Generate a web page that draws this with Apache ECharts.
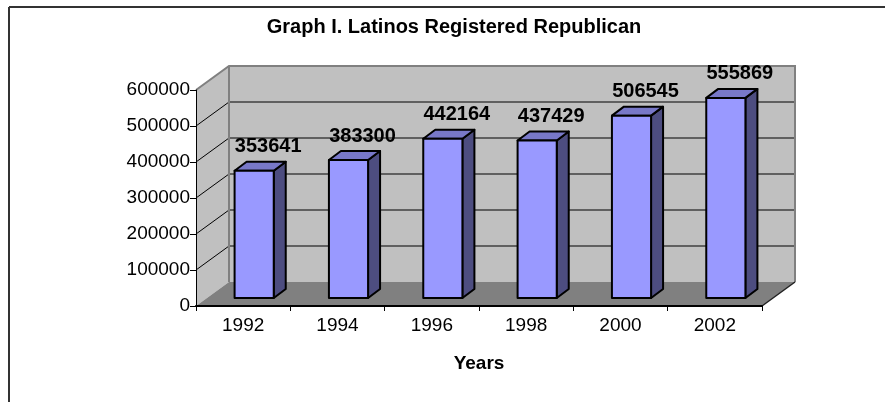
<!DOCTYPE html>
<html>
<head>
<meta charset="utf-8">
<script src="https://cdn.jsdelivr.net/npm/echarts@6/dist/echarts.min.js"></script>
<style>
  html, body { margin: 0; padding: 0; background: #fff; }
  #chart { width: 885px; height: 402px; }
</style>
</head>
<body>
<div id="chart"></div>
<script>
// 数据
const years = ['1992', '1994', '1996', '1998', '2000', '2002']
const registered = [353641, 383300, 442164, 437429, 506545, 555869]
const yTicks = [0, 100000, 200000, 300000, 400000, 500000, 600000]

// 立体效果偏移
const DEPTH = [33, -24]       // 背板相对前沿
const BAR_SHIFT = [11, -8]    // 柱子正面相对前沿
const BAR_DEPTH = [12, -9]    // 柱子侧面厚度
const BAR_W = 0.415           // 柱宽 / 类目宽

const chart = echarts.init(document.getElementById('chart'))

function renderWalls(params, api) {
  const cs = params.coordSys
  const x0 = cs.x, x1 = cs.x + cs.width
  const yTop = cs.y, yBot = cs.y + cs.height
  const dx = DEPTH[0], dy = DEPTH[1]
  const children = []
  // 侧墙
  children.push({
    type: 'polygon',
    shape: { points: [[x0, yTop], [x0 + dx, yTop + dy], [x0 + dx, yBot + dy], [x0, yBot]] },
    style: { fill: '#c0c0c0', stroke: null }
  })
  // 背板
  children.push({
    type: 'rect',
    shape: { x: x0 + dx, y: yTop + dy, width: cs.width, height: cs.height },
    style: { fill: '#c0c0c0', stroke: null }
  })
  // 地板
  children.push({
    type: 'polygon',
    shape: { points: [[x0, yBot], [x1, yBot], [x1 + dx, yBot + dy], [x0 + dx, yBot + dy]] },
    style: { fill: '#808080', stroke: null }
  })
  // 网格线
  yTicks.forEach(v => {
    if (v === 0 || v === yTicks[yTicks.length - 1]) return
    const y = api.coord([0, v])[1]
    children.push({
      type: 'polyline',
      shape: { points: [[x0, y], [x0 + dx, y + dy], [x1 + dx, y + dy]] },
      style: { stroke: '#000', lineWidth: 1, fill: null }
    })
  })
  // 墙边框
  children.push({
    type: 'polyline',
    shape: { points: [[x0, yTop], [x0 + dx, yTop + dy], [x1 + dx, yTop + dy], [x1 + dx, yBot + dy]] },
    style: { stroke: '#808080', lineWidth: 2, fill: null }
  })
  children.push({
    type: 'line',
    shape: { x1: x0 + dx, y1: yTop + dy, x2: x0 + dx, y2: yBot + dy },
    style: { stroke: '#808080', lineWidth: 2 }
  })
  children.push({
    type: 'line',
    shape: { x1: x1, y1: yBot, x2: x1 + dx, y2: yBot + dy },
    style: { stroke: '#222', lineWidth: 1.5 }
  })
  return { type: 'group', children }
}

function renderBar(params, api) {
  const idx = api.value(0)
  const val = api.value(1)
  const base = api.coord([idx, 0])
  const top = api.coord([idx, val])
  const bw = api.size([1, 0])[0] * BAR_W
  const cx = base[0] + BAR_SHIFT[0]
  const x0 = cx - bw / 2, x1 = cx + bw / 2
  const y0 = base[1] + BAR_SHIFT[1], y1 = top[1] + BAR_SHIFT[1]
  const dx = BAR_DEPTH[0], dy = BAR_DEPTH[1]
  const line = { stroke: '#000', lineWidth: 2, lineJoin: 'round' }
  return {
    type: 'group',
    children: [
      { type: 'polygon', shape: { points: [[x1, y0], [x1 + dx, y0 + dy], [x1 + dx, y1 + dy], [x1, y1]] },
        style: Object.assign({ fill: '#4d4d80' }, line) },
      { type: 'polygon', shape: { points: [[x0, y1], [x0 + dx, y1 + dy], [x1 + dx, y1 + dy], [x1, y1]] },
        style: Object.assign({ fill: '#7878c8' }, line) },
      { type: 'rect', shape: { x: x0, y: y1, width: bw, height: y0 - y1 },
        style: Object.assign({ fill: '#9999ff' }, line) },
      { type: 'text', x: cx + 14, y: y1 - 24,
        style: { text: String(val), fill: '#000', font: 'bold 20px "Liberation Sans", Arial, sans-serif',
                 align: 'center', verticalAlign: 'middle' } }
    ]
  }
}

const option = {
  animation: false,
  backgroundColor: '#fff',
  textStyle: { fontFamily: '"Liberation Sans", Arial, sans-serif' },
  title: {
    text: 'Graph I. Latinos Registered Republican',
    left: 449,
    textAlign: 'center',
    top: 12,
    textStyle: { fontSize: 20, fontWeight: 'bold', color: '#000', fontFamily: '"Liberation Sans", Arial, sans-serif' }
  },
  graphic: [
    { type: 'line', shape: { x1: 9, y1: 7, x2: 885, y2: 7 }, style: { stroke: '#333', lineWidth: 2 } },
    { type: 'line', shape: { x1: 9, y1: 7, x2: 9, y2: 402 }, style: { stroke: '#333', lineWidth: 2 } }
  ],
  grid: { left: 196, right: 123, top: 90, bottom: 96 },
  xAxis: {
    type: 'category',
    data: years,
    z: 3,
    axisLine: { lineStyle: { color: '#000', width: 2 } },
    axisTick: { show: true, interval: 0, length: 5, lineStyle: { color: '#000' } },
    axisLabel: { fontSize: 19, color: '#000', margin: 10 },
    name: 'Years',
    nameLocation: 'middle',
    nameGap: 48,
    nameTextStyle: { fontSize: 19, fontWeight: 'bold', color: '#000' },
    splitLine: { show: false }
  },
  yAxis: {
    type: 'value',
    min: 0,
    max: 600000,
    interval: 100000,
    z: 3,
    axisLine: { show: true, lineStyle: { color: '#000', width: 1 } },
    axisTick: { show: true, length: 6, lineStyle: { color: '#000' } },
    axisLabel: { fontSize: 19, color: '#000', margin: 6, formatter: v => String(v) },
    splitLine: { show: false }
  },
  series: [
    {
      type: 'custom',
      z: 1,
      silent: true,
      renderItem: renderWalls,
      data: [[0, 0]]
    },
    {
      type: 'custom',
      z: 4,
      renderItem: renderBar,
      encode: { x: 0, y: 1 },
      data: registered.map((v, i) => [i, v])
    }
  ]
}

chart.setOption(option)
</script>
</body>
</html>
